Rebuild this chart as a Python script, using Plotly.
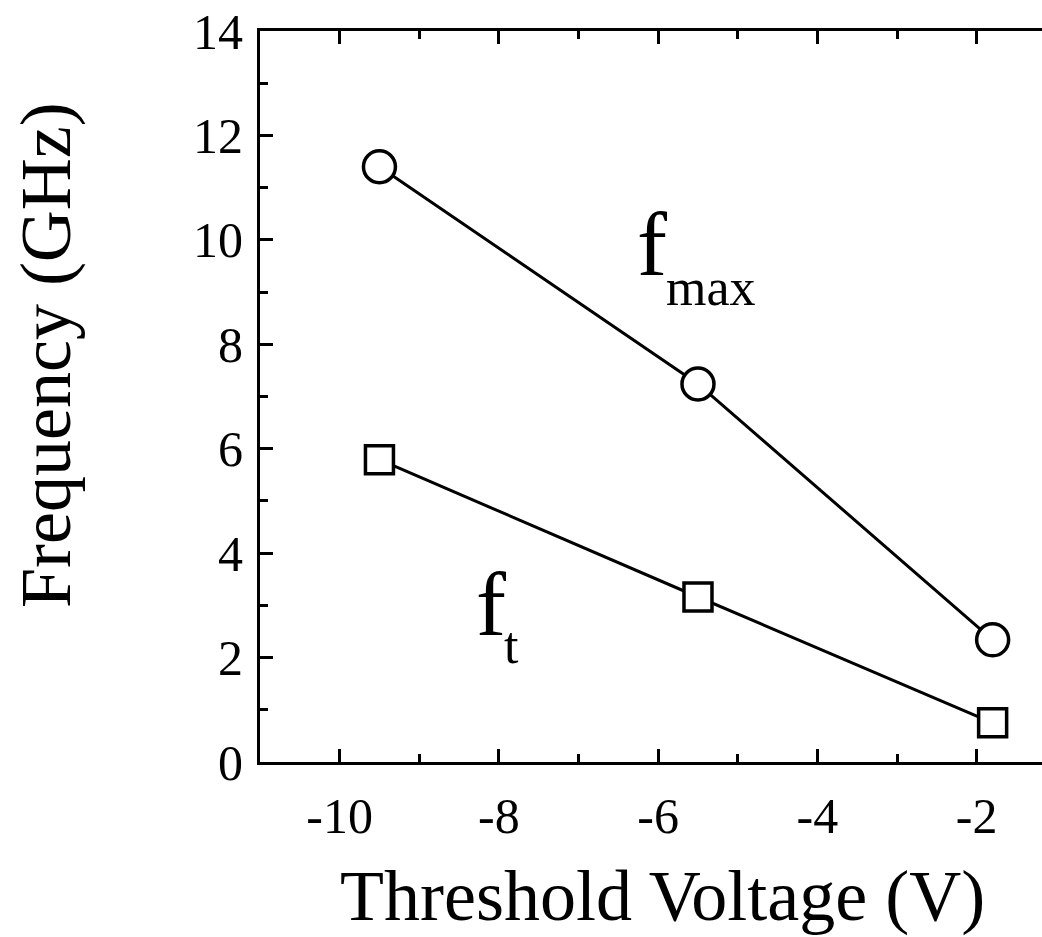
import plotly.graph_objects as go

threshold_v = [-9.5, -5.5, -1.8]
fmax_ghz = [11.4, 7.24, 2.34]
ft_ghz = [5.79, 3.16, 0.75]

x_ticks = [-10, -8, -6, -4, -2]
y_ticks = [0, 2, 4, 6, 8, 10, 12, 14]

FONT = "Liberation Serif, Times New Roman, serif"

fig = go.Figure()
fig.add_trace(go.Scatter(
    x=threshold_v, y=fmax_ghz, mode="lines+markers",
    line=dict(color="black", width=3),
    marker=dict(symbol="circle", size=32, color="white", line=dict(color="black", width=3.5)),
    showlegend=False,
))
fig.add_trace(go.Scatter(
    x=threshold_v, y=ft_ghz, mode="lines+markers",
    line=dict(color="black", width=3),
    marker=dict(symbol="square", size=28, color="white", line=dict(color="black", width=3.5)),
    showlegend=False,
))

axis_common = dict(
    showline=True, linecolor="black", linewidth=3,
    ticks="inside", ticklen=13, tickwidth=3, tickcolor="black",
    showgrid=False, zeroline=False,
    tickfont=dict(family=FONT, size=50, color="black"),
)

fig.update_xaxes(
    range=[-11.0, -1.18], tickvals=x_ticks, ticktext=[str(v) for v in x_ticks],
    mirror="ticks", ticklabelstandoff=8,
    minor=dict(dtick=1, tick0=0, ticks="inside", ticklen=8, tickwidth=3, tickcolor="black"),
    **axis_common,
)
fig.update_yaxes(
    range=[0, 14], tickvals=y_ticks, ticktext=[str(v) for v in y_ticks],
    mirror=False, ticklabelstandoff=4,
    minor=dict(dtick=1, tick0=0, ticks="inside", ticklen=8, tickwidth=3, tickcolor="black"),
    **axis_common,
)

W, H = 1042, 937
L, R, T, B = 260, 0, 31, 175
pw, ph = W - L - R, H - T - B

fig.update_layout(
    width=W, height=H,
    margin=dict(l=L, r=R, t=T, b=B),
    paper_bgcolor="white", plot_bgcolor="white",
)

def px_to_paper(px, py):
    return (px - L) / pw, (H - B - py) / ph

ann = []
x0, y0 = px_to_paper(662, 896)
ann.append(dict(text="Threshold Voltage (V)", x=x0, y=y0, xref="paper", yref="paper",
                showarrow=False, xanchor="center", yanchor="middle",
                font=dict(family=FONT, size=72, color="black")))
x0, y0 = px_to_paper(46, 355)
ann.append(dict(text="Frequency (GHz)", x=x0, y=y0, xref="paper", yref="paper",
                showarrow=False, xanchor="center", yanchor="middle", textangle=-90,
                font=dict(family=FONT, size=72, color="black")))
# f_max label
x0, y0 = px_to_paper(652, 244)
ann.append(dict(text="f", x=x0, y=y0, xref="paper", yref="paper", showarrow=False,
                xanchor="center", yanchor="middle", font=dict(family=FONT, size=90, color="black")))
x0, y0 = px_to_paper(711, 287)
ann.append(dict(text="max", x=x0, y=y0, xref="paper", yref="paper", showarrow=False,
                xanchor="center", yanchor="middle", font=dict(family=FONT, size=52, color="black")))
# f_t label
x0, y0 = px_to_paper(491, 604)
ann.append(dict(text="f", x=x0, y=y0, xref="paper", yref="paper", showarrow=False,
                xanchor="center", yanchor="middle", font=dict(family=FONT, size=90, color="black")))
x0, y0 = px_to_paper(511, 645)
ann.append(dict(text="t", x=x0, y=y0, xref="paper", yref="paper", showarrow=False,
                xanchor="center", yanchor="middle", font=dict(family=FONT, size=52, color="black")))

fig.update_layout(annotations=ann)
fig.write_html("out.html")
